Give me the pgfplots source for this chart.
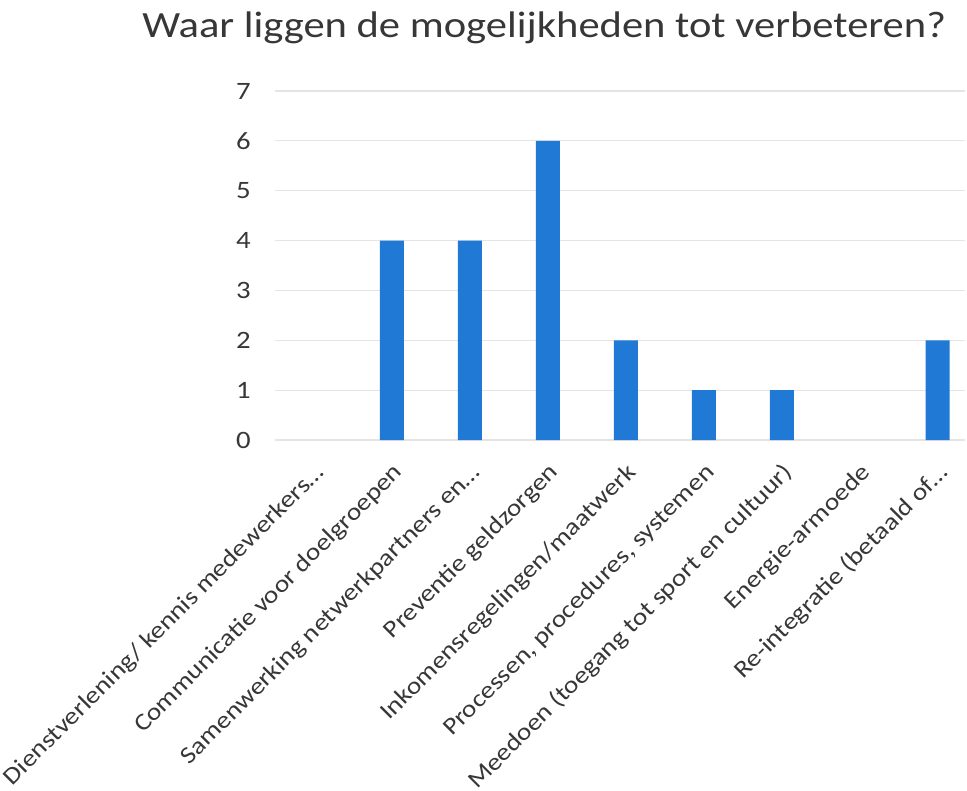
\documentclass[border=0pt]{standalone}
\usepackage{fontspec}
\setmainfont{Carlito}[FakeStretch=1.15]
\usepackage{pgfplots}
\pgfplotsset{compat=1.18}
\definecolor{barblue}{RGB}{33,121,214}
\definecolor{txt}{RGB}{55,55,55}
\definecolor{gridc}{RGB}{228,228,228}
\begin{document}
\begin{tikzpicture}
\path[use as bounding box] (-275bp,-351bp) rectangle (692bp,440bp);
\begin{axis}[
  anchor=south west, at={(0,0)},
  scale only axis, width=690bp, height=349bp,
  xmin=-0.5, xmax=8.35, ymin=0, ymax=7,
  ytick={0,1,...,7}, xtick={0,1,...,8},
  xticklabels={{Dienstverlening/ kennis medewerkers…},{Communicatie voor doelgroepen},{Samenwerking netwerkpartners en…},{Preventie geldzorgen},{Inkomensregelingen/maatwerk},{Processen, procedures, systemen},{Meedoen (toegang tot sport en cultuur)},{Energie-armoede},{Re-integratie (betaald of…}},
  axis line style={draw=none},
  major tick length=0pt,
  ymajorgrids, grid style={gridc, line width=1.2bp},
  /pgf/number format/assume math mode=true,
  tick label style={text=txt},
  yticklabel style={font=\fontsize{25bp}{30bp}\selectfont, inner sep=0pt, xshift=-24bp},
  xticklabel style={font=\fontsize{24bp}{29bp}\selectfont, inner sep=0pt, xshift=7bp, yshift=-29bp, rotate=45, anchor=east},
  title={Waar liggen de mogelijkheden tot verbeteren?},
  title style={at={(0.39,1)}, anchor=base, yshift=48bp, text=txt, font=\fontsize{37bp}{44bp}\selectfont},
  unbounded coords=discard,
]
\addplot[ybar, bar width=24bp, fill=barblue, draw=none,
  y filter/.expression={y==0 ? nan : y}] table {
x y
0 0
1 4
2 4
3 6
4 2
5 1
6 1
7 0
8 2
};
\end{axis}
\end{tikzpicture}
\end{document}
